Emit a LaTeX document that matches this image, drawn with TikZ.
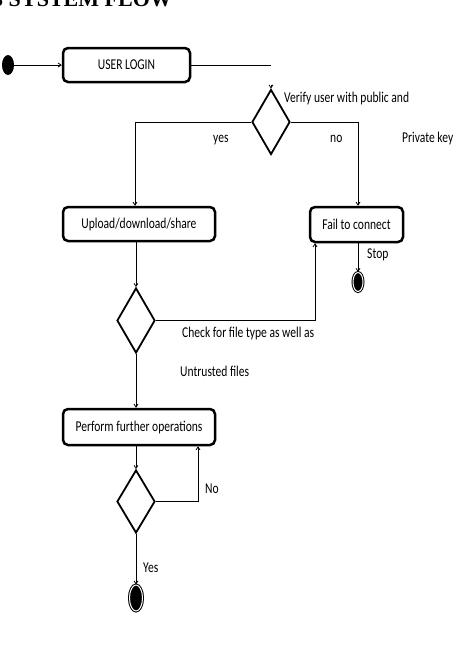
\documentclass[tikz,border=0pt]{standalone}
\usepackage{fontspec}
\setmainfont{Carlito}[FakeStretch=0.77]
\newfontfamily\titlefont{Liberation Serif}
\usetikzlibrary{shapes.geometric,arrows.meta}
\begin{document}
\begin{tikzpicture}[x=1pt,y=-1pt,
  font=\fontsize{15}{17}\selectfont,
  box/.style={draw,rounded corners=5pt,line width=2.5pt,inner sep=0pt},
  dec/.style={diamond,draw,line width=1.8pt,inner sep=0pt,minimum width=38pt,minimum height=65pt},
  conn/.style={line width=0.8pt},
  arr/.style={conn,-{Straight Barb[length=3pt,width=4pt]}},
  lbl/.style={anchor=base west,inner sep=0pt},
  startdot/.style={ellipse,fill=black,inner sep=0pt},
  enddot/.style={ellipse,draw=black,fill=black,line width=1pt,double=white,double distance=1pt,inner sep=0pt}
  ]
\clip (0,0) rectangle (460,648);
\useasboundingbox (0,0) rectangle (460,648);
\fill[white] (0,0) rectangle (460,648);

\node[anchor=base west,inner sep=0pt,font=\titlefont\bfseries\fontsize{22}{24}\selectfont] (title) at (-8,6.5) {3 SYSTEM FLOW};

\node[startdot,minimum width=12pt,minimum height=20pt] (start) at (8,65) {};
\node[box,minimum width=127pt,minimum height=34pt] (login) at (126.5,65) {USER LOGIN};
\coordinate (lend) at (271,65);
\node[dec] (d1) at (271,122) {};
\node[box,minimum width=152pt,minimum height=34pt] (up) at (139,224) {Upload/download/share};
\node[box,minimum width=93pt,minimum height=35pt] (fail) at (356.5,224.5) {Fail to connect};
\node[enddot,minimum width=10pt,minimum height=19pt] (stop) at (358,282) {};
\node[dec] (d2) at (136,320.5) {};
\node[box,minimum width=152pt,minimum height=36pt] (perform) at (139,427) {Perform further operations};
\node[dec,minimum height=63pt] (d3) at (136,501.5) {};
\node[enddot,minimum width=13pt,minimum height=26pt] (end) at (136,598) {};

\node[lbl] (tverify) at (284,102) {Verify user with public and};
\node[lbl] (tyes) at (213,142) {yes};
\node[lbl] (tno) at (330,142) {no};
\node[lbl] (tkey) at (402,142) {Private key};
\node[lbl] (tstop) at (367,258) {Stop};
\node[lbl] (tcheck) at (182,337) {Check for file type as well as};
\node[lbl] (tuntr) at (180,376) {Untrusted files};
\node[lbl] (tNo) at (205,493) {No};
\node[lbl] (tYes) at (143,572) {Yes};

\draw[arr] (start) -- (login);
\draw[conn] (login.east) -- (lend);
\draw[arr] ([yshift=4pt]d1.north) -- (d1.north);
\draw[arr] (d1.west) -| ([xshift=-4pt]up.north);
\draw[arr] (d1.east) -| ([xshift=1.5pt]fail.north);
\draw[arr] (fail.south -| stop.north) -- (stop.north);
\draw[arr] ([xshift=-3pt]up.south) -- (d2.north);
\draw[arr] (d2.east) -| ([xshift=-41.5pt]fail.south);
\draw[arr] (d2.south) -- ([xshift=-3pt]perform.north);
\draw[arr] ([xshift=-3pt]perform.south) -- (d3.north);
\draw[arr] (d3.east) -| ([xshift=59pt]perform.south);
\draw[arr] (d3.south) -- (end.north);
\end{tikzpicture}
\end{document}
